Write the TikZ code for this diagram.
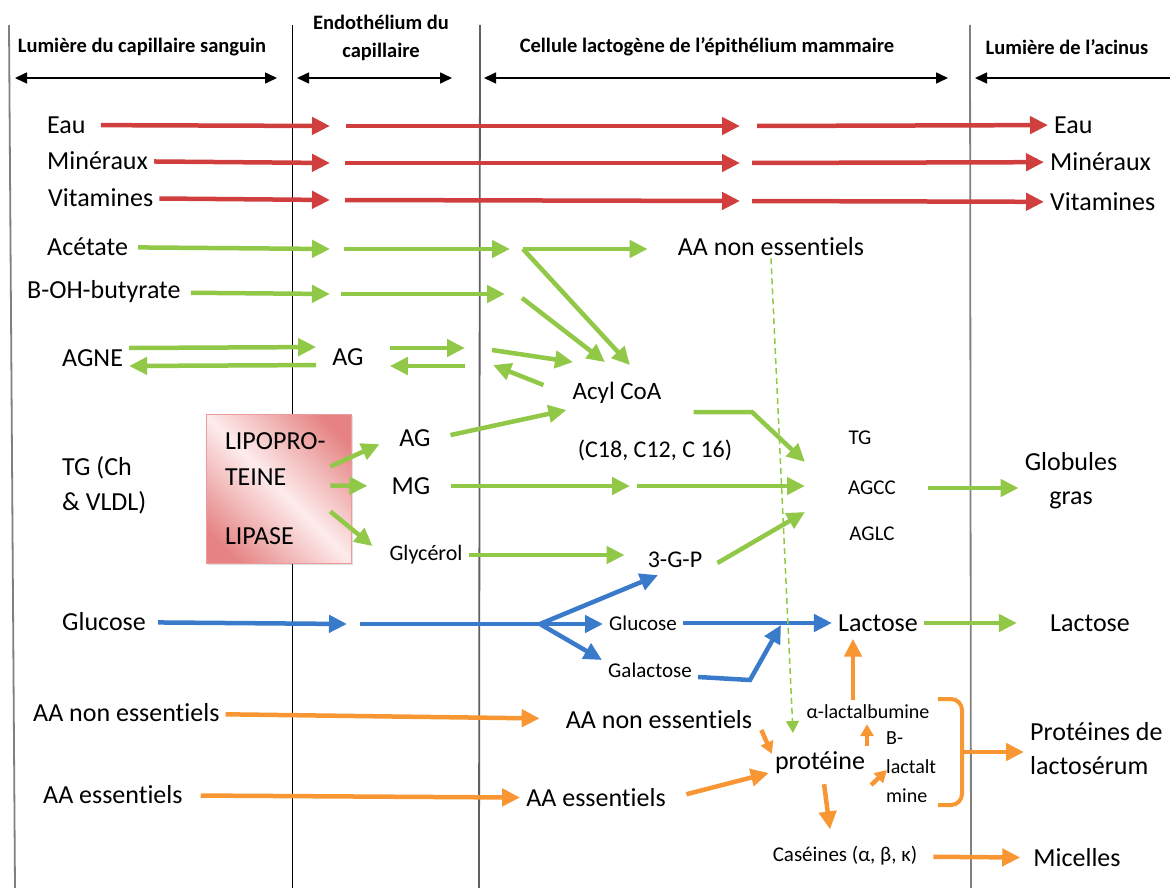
\documentclass[tikz,border=0pt]{standalone}
\usepackage{fontspec}
\setmainfont{Carlito}[Ligatures={NoCommon,NoContextual}]
\usetikzlibrary{arrows.meta,positioning,calc,shadows}
\definecolor{flowred}{RGB}{208,62,62}
\definecolor{flowgreen}{RGB}{146,200,72}
\definecolor{flowblue}{RGB}{58,122,202}
\definecolor{floworange}{RGB}{247,150,50}
\definecolor{lplred}{RGB}{230,130,130}
\definecolor{lplpale}{RGB}{253,236,236}
\pgfdeclarehorizontalshading{lplshade}{100bp}{color(0bp)=(lplred); color(22bp)=(lplred); color(50bp)=(lplpale); color(78bp)=(lplred); color(100bp)=(lplred)}

\begin{document}
\begin{tikzpicture}[x=1pt, y=-1pt,
    lbl/.style={inner xsep=6pt, inner ysep=2pt, font=\fontsize{26}{31}\selectfont},
    sml/.style={inner xsep=6pt, inner ysep=2pt, font=\fontsize{21}{25}\selectfont},
    hdr/.style={font=\bfseries\fontsize{20.5}{28}\selectfont, align=center},
    wall/.style={line width=1.8pt, gray!75!black},
    span/.style={line width=1.5pt, {Triangle[length=12pt,width=11pt]}-{Triangle[length=12pt,width=11pt]}},
    flow/.style={line width=4.5pt, -{Triangle[length=18pt,width=17pt]}},
    short/.style={-{Triangle[length=12pt,width=13pt]}},
    redflow/.style={flow, flowred},
    greenflow/.style={flow, flowgreen},
    blueflow/.style={flow, flowblue},
    orangeflow/.style={flow, floworange},
    greendash/.style={flowgreen, line width=1.5pt, dash pattern=on 6pt off 4pt, -{Triangle[length=12pt,width=13pt]}},
    lpl/.style={draw=lplred!80, line width=0.8pt, minimum width=145pt, minimum height=149pt, inner xsep=19pt,
        text width=107pt, align=left, font=\fontsize{26}{36}\selectfont,
        drop shadow={shadow xshift=2pt, shadow yshift=-2pt, opacity=0.25},
        shade, shading=lplshade, shading angle=45}
]
    \useasboundingbox (0,0) rectangle (1170,888);

    % membranes
    \draw[wall, gray] (9,25) -- (15,888);
    \draw[black, line width=1pt] (292,25) -- (292,888);
    \draw[wall] (480,25) -- (479,888);
    \draw[wall, gray] (970,25) -- (971,888);

    % compartments
    \node[hdr] (hsang) at (142,47) {Lumière du capillaire sanguin};
    \node[hdr] (hendo) at (381,38) {Endothélium du\\capillaire};
    \node[hdr] (hcell) at (707,47) {Cellule lactogène de l’épithélium mammaire};
    \node[hdr] (hacin) at (1067,47) {Lumière de l’acinus};
    \coordinate (sp1a) at (15,78);  \coordinate (sp1b) at (277,78);
    \coordinate (sp2a) at (297,78); \coordinate (sp2b) at (452,78);
    \coordinate (sp3a) at (484,78); \coordinate (sp3b) at (948,78);
    \coordinate (sp4a) at (975,78); \coordinate (sp4b) at (1170,78);
    \draw[span] (sp1a) -- (sp1b);
    \draw[span] (sp2a) -- (sp2b);
    \draw[span] (sp3a) -- (sp3b);
    \draw[line width=1.5pt, {Triangle[length=12pt,width=11pt]}-] (sp4a) -- (sp4b);

    % eau, mineraux, vitamines
    \node[lbl, anchor=west] (eauL) at (41,125) {Eau};
    \node[lbl, anchor=west] (minL) at (41,161) {Minéraux};
    \node[lbl, anchor=west] (vitL) at (42,198) {Vitamines};
    \node[lbl, anchor=west] (eauR) at (1048,125) {Eau};
    \node[lbl, anchor=west] (minR) at (1044,162) {Minéraux};
    \node[lbl, anchor=west] (vitR) at (1044,202) {Vitamines};
    \coordinate (eau1) at (330,126); \coordinate (eau2) at (346,126);
    \coordinate (eau3) at (740,126); \coordinate (eau4) at (757,126);
    \coordinate (min1) at (330,163); \coordinate (min2) at (345,163);
    \coordinate (min3) at (740,163); \coordinate (min4) at (752,163);
    \coordinate (vit1) at (330,200); \coordinate (vit2) at (345,200);
    \coordinate (vit3) at (740,201); \coordinate (vit4) at (752,201);
    \draw[redflow, shorten <=9pt] (eauL) -- (eau1);
    \draw[redflow] (eau2) -- (eau3);
    \draw[redflow] (eau4) -- (eauR);
    \draw[redflow] (minL) -- (min1);
    \draw[redflow] (min2) -- (min3);
    \draw[redflow] (min4) -- (minR);
    \draw[redflow] (vitL) -- (vit1);
    \draw[redflow] (vit2) -- (vit3);
    \draw[redflow] (vit4) -- (vitR);

    % acetate, butyrate, AG
    \node[lbl, anchor=west] (acetL) at (41,247) {Acétate};
    \node[lbl, anchor=west] (bohL) at (21,292) {B-OH-butyrate};
    \node[lbl] (aaneC) at (771,247) {AA non essentiels};
    \node[lbl, font=\fontsize{25}{30}\selectfont] (acyl) at (617,393) {Acyl CoA};
    \node[lbl, font=\fontsize{24}{29}\selectfont] (cfa) at (655,450) {(C18, C12, C 16)};
    \coordinate (acet1) at (330,249); \coordinate (acet2) at (344,249);
    \coordinate (acet3) at (510,249); \coordinate (acet4) at (523,249);
    \coordinate (boh1) at (330,294); \coordinate (boh2) at (341,294);
    \coordinate (boh3) at (505,294); \coordinate (boh4) at (522,298);
    \draw[greenflow, shorten <=4pt] (acetL) -- (acet1);
    \draw[greenflow] (acet2) -- (acet3);
    \draw[greenflow, shorten >=24pt] (acet4) -- (acet4 -| aaneC.west);
    \draw[greenflow] (acet4) -- ([xshift=13pt,yshift=15pt]acyl.north);
    \draw[greenflow, shorten <=4pt] (bohL) -- (boh1);
    \draw[greenflow] (boh2) -- (boh3);
    \draw[greenflow] (boh4) -- ([xshift=-12pt,yshift=18pt]acyl.north);

    \node[lbl, anchor=west] (agne) at (56,358) {AGNE};
    \node[lbl] (agA) at (348,357) {AG};
    \coordinate (agR) at (465,348); \coordinate (agRb) at (465,366);
    \coordinate (agC) at (492,350); \coordinate (agCb) at (493,365);
    \draw[greenflow, shorten >=10pt] ([yshift=10pt]agne.east) -- ([yshift=10pt]agA.west);
    \draw[greenflow, shorten <=10pt] ([yshift=-8pt]agA.west) -- ([yshift=-8pt]agne.east);
    \draw[greenflow, shorten <=20pt] ([yshift=9pt]agA.east) -- (agR);
    \draw[greenflow, shorten >=20pt] (agRb) -- ([yshift=-9pt]agA.east);
    \draw[greenflow] (agC) -- ([xshift=-44pt,yshift=18pt]acyl.north);
    \draw[greenflow] ([xshift=-23pt,yshift=8pt]acyl.west) -- (agCb);

    % triglycerides
    \node[lbl, anchor=west, align=left, font=\fontsize{26}{35}\selectfont] (tgch) at (56,485) {TG (Ch\\\& VLDL)};
    \node[lpl] (lpl) at (278.5,488.5) {LIPOPRO-\\TEINE\\[23pt]LIPASE};
    \node[lbl] (agB) at (415,438) {AG};
    \node[lbl] (mg) at (411,486) {MG};
    \node[sml, font=\fontsize{22}{26}\selectfont] (glyc) at (426,555) {Glycérol};
    \node[lbl, font=\fontsize{24}{29}\selectfont] (gpp) at (675,560) {3-G-P};
    \node[sml] (tg) at (860,438) {TG};
    \node[sml] (agcc) at (872,488) {AGCC};
    \node[sml] (aglc) at (872,534) {AGLC};
    \node[lbl, align=center, font=\fontsize{26}{34}\selectfont] (glob) at (1071,481) {Globules\\gras};
    \coordinate (mg1) at (630,486); \coordinate (mg2) at (637,486);
    \coordinate (acylbend) at (752,412); \coordinate (tgin) at (805,462);
    \coordinate (agccin) at (805,486); \coordinate (aglcin) at (805,512);
    \draw[greenflow, shorten >=15pt] ([xshift=-21pt,yshift=22pt]lpl.east) -- (agB.west);
    \draw[greenflow, shorten >=18pt] ([xshift=-21pt,yshift=3pt]lpl.east) -- (mg.west);
    \draw[greenflow, shorten >=14pt] ([xshift=-21pt,yshift=-23pt]lpl.east) -- (glyc.west);
    \draw[greenflow, shorten <=14pt] (agB.east) -- ([yshift=-17pt]acyl.west);
    \draw[greenflow] ([xshift=26pt,yshift=-19pt]acyl.east) -- (acylbend) -- (tgin);
    \draw[greenflow, shorten <=14pt] (mg) -- (mg1);
    \draw[greenflow] (mg2) -- (agccin);
    \draw[greenflow, shorten >=17pt] (glyc.east) -- (glyc.east -| gpp.west);
    \draw[greenflow] ([xshift=9pt,yshift=-3pt]gpp.east) -- (aglcin);
    \draw[greenflow, shorten <=26pt] (agcc.east) -- (agcc.east -| glob.west);

    % glucose, lactose
    \node[lbl, anchor=west] (glcL) at (56,622) {Glucose};
    \node[sml] (glcS) at (643,623) {Glucose};
    \node[sml] (gal) at (650,670) {Galactose};
    \node[lbl] (lacA) at (878,623) {Lactose};
    \node[lbl] (lacB) at (1090,623) {Lactose};
    \coordinate (glc1) at (347,624); \coordinate (glc2) at (360,624);
    \coordinate (fork) at (540,624);
    \coordinate (galbend) at (750,680); \coordinate (galtop) at (781,625);
    \draw[blueflow, shorten <=6pt] (glcL) -- (glc1);
    \draw[blueflow] (glc2) -- (fork) -- (fork -| glcS.west);
    \draw[blueflow] (fork) -- ([xshift=-17pt,yshift=-5pt]gpp.south);
    \draw[blueflow] (fork) -- ([yshift=10pt]gal.west);
    \draw[blueflow] (glcS) -- (lacA);
    \draw[blueflow] ([yshift=-7pt]gal.east) -- (galbend) -- (galtop);
    \draw[greenflow, shorten >=27pt] (lacA) -- (lacB);
    \draw[greendash] (aaneC.south) -- (793,733);

    % acides amines, proteines
    \node[lbl, anchor=west] (aaneL) at (27,713) {AA non essentiels};
    \node[lbl] (aaneM) at (659,720) {AA non essentiels};
    \node[lbl, anchor=west] (aaeL) at (37,795) {AA essentiels};
    \node[lbl] (aaeM) at (596,798) {AA essentiels};
    \node[lbl] (prot) at (820,763) {protéine};
    \node[sml, font=\fontsize{20}{24}\selectfont] (alac) at (868,712) {α-lactalbumine};
    \node[sml, anchor=west, align=left, font=\fontsize{20}{29}\selectfont] (blac) at (880,767) {B-\\lactalt\\mine};
    \node[sml] (cas) at (845,856) {Caséines (α, β, κ)};
    \node[lbl, anchor=west, align=left, font=\fontsize{26}{34}\selectfont] (prl) at (1024,749) {Protéines de\\lactosérum};
    \node[lbl] (mic) at (1077,858) {Micelles};
    \coordinate (brtop) at (938,699); \coordinate (brtr) at (962,699);
    \coordinate (brbr) at (962,805); \coordinate (brbot) at (938,805);
    \coordinate (brmid) at (962,752);
    \draw[orangeflow, shorten >=20pt] (aaneL) -- (aaneM);
    \draw[orangeflow, shorten <=12pt] (aaeL) -- (aaeM);
    \draw[orangeflow, short] ([xshift=3pt,yshift=-10pt]aaneM.east) -- ([xshift=3pt,yshift=-4pt]prot.north west);
    \draw[orangeflow, shorten <=15pt] (aaeM.east) -- ([yshift=-10pt]prot.west);
    \draw[orangeflow, shorten <=8pt, shorten >=15pt] ([xshift=3pt]prot.south) -- ([xshift=-13pt]cas.north);
    \draw[orangeflow, short] ([xshift=-1pt,yshift=-25pt]alac.south) -- ([xshift=-1pt,yshift=-3pt]alac.south);
    \draw[orangeflow, short] ([yshift=-22pt]prot.east) -- ([xshift=7pt,yshift=-3pt]blac.west);
    \draw[orangeflow, shorten >=5pt] ([xshift=-15pt,yshift=3pt]alac.north) -- ([xshift=-25pt]lacA.south);
    \draw[floworange, line width=4pt, rounded corners=11pt] (brtop) -- (brtr) -- (brbr) -- (brbot);
    \draw[orangeflow] (brmid) -- (brmid -| prl.west);
    \draw[orangeflow, shorten <=10pt, shorten >=7pt] (cas) -- (mic);
\end{tikzpicture}
\end{document}
